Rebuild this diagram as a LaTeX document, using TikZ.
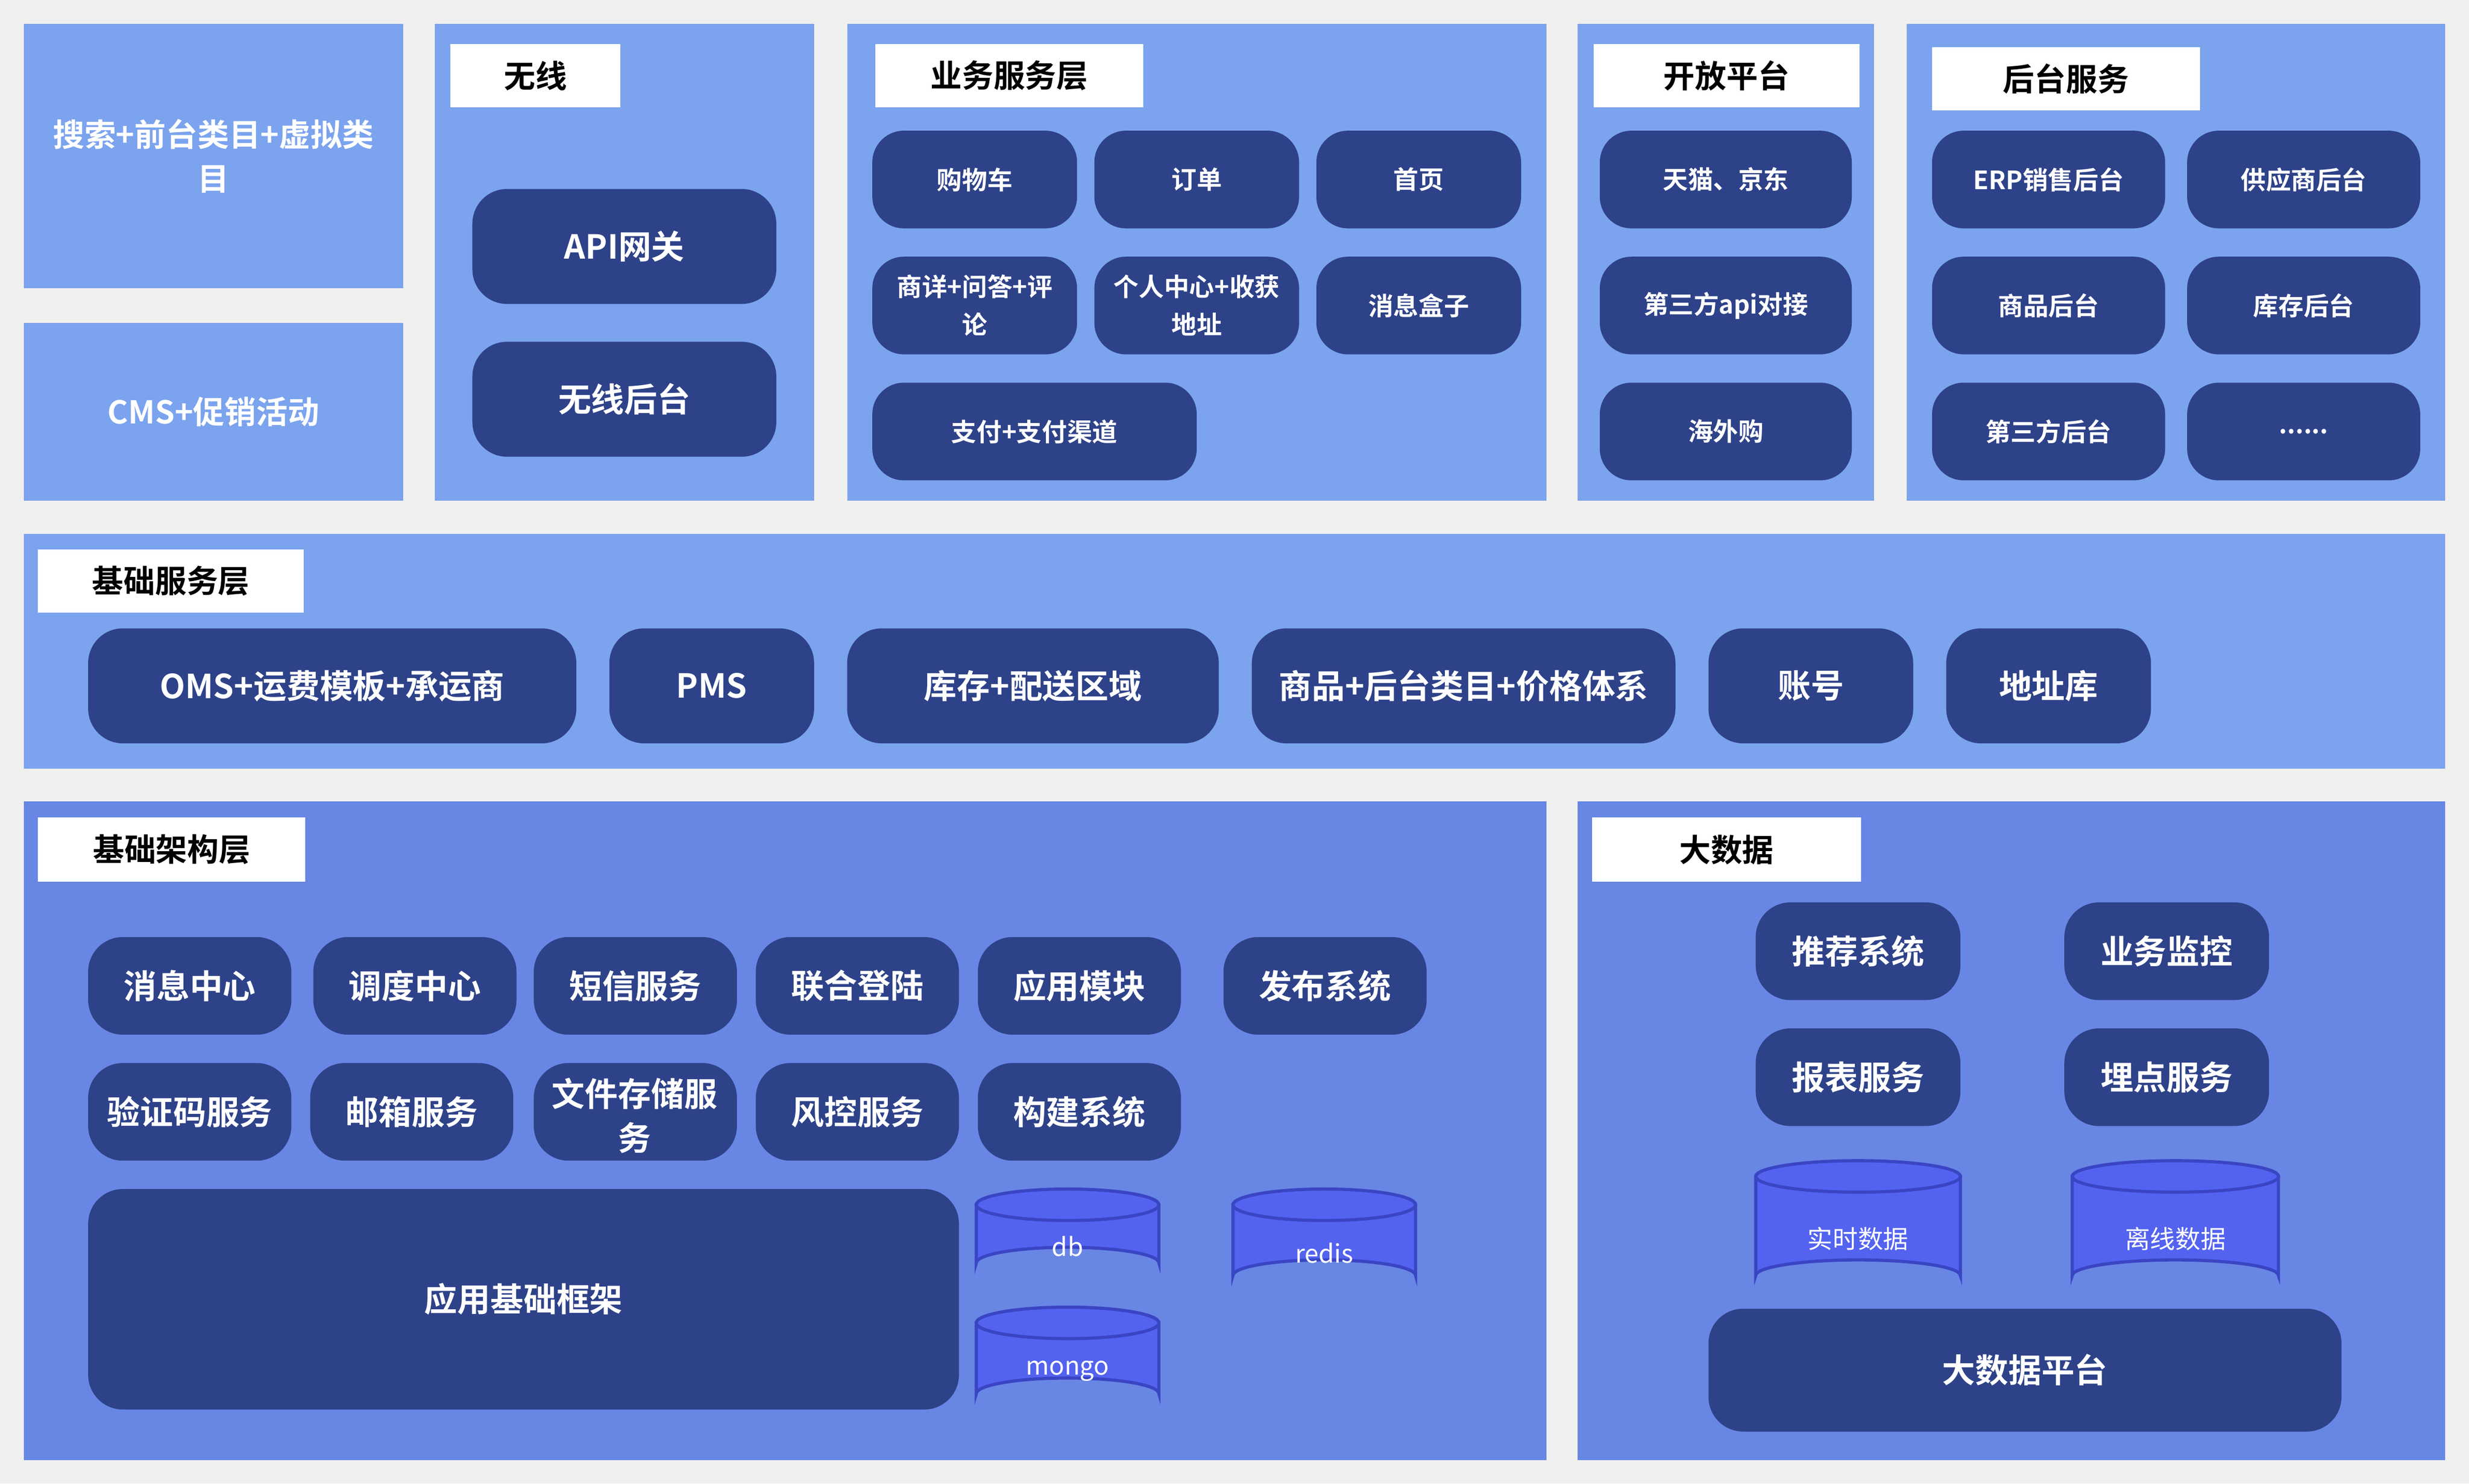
\documentclass[tikz,border=0pt]{standalone}
\usepackage{fontspec}
\setmainfont{Noto Sans CJK SC}[BoldFont={Noto Sans CJK SC Bold}]
\definecolor{bgc}{HTML}{F0F0F0}
\definecolor{lightp}{HTML}{7BA3EE}
\definecolor{midp}{HTML}{6886E4}
\definecolor{darkn}{HTML}{2E4289}
\definecolor{cylf}{HTML}{5363F0}
\definecolor{cyld}{HTML}{3A45C4}
\tikzset{
 panelA/.style={fill=lightp,inner sep=0,outer sep=0,text=white,font=\bfseries\fontsize{20}{28}\selectfont,align=center},
 panelB/.style={fill=midp,inner sep=0,outer sep=0},
 lab/.style={fill=white,inner sep=0,outer sep=0,font=\bfseries\fontsize{20}{24}\selectfont,text=black},
 sn/.style={fill=darkn,rounded corners=20pt,inner sep=0,outer sep=0,text=white,font=\bfseries\fontsize{16}{24}\selectfont,align=center},
 bn/.style={fill=darkn,rounded corners=22pt,inner sep=0,outer sep=0,text=white,font=\bfseries\fontsize{21}{28}\selectfont,align=center},
 cylt/.style={text=white,font=\fontsize{16}{20}\selectfont},
}
\newcommand\nd[7]{%
 \pgfmathsetmacro\cx{(#3+#5)/2}\pgfmathsetmacro\cy{(#4+#6)/2}%
 \pgfmathsetmacro\w{#5-#3}\pgfmathsetmacro\h{#6-#4}%
 \node[#1,minimum width=\w pt,minimum height=\h pt] (#2) at (\cx,\cy) {#7};}
\newcommand\cyl[6]{% name x1 y1 x2 y2 text
 \pgfmathsetmacro\cx{(#2+#4)/2}\pgfmathsetmacro\rx{(#4-#2)/2}%
 \fill[cylf,draw=cyld,line width=2pt] (#2,#3+10) -- (#2,#5-10) arc[start angle=180,end angle=360,x radius=\rx,y radius=10] -- (#4,#3+10) -- cycle;
 \draw[cyld,line width=2pt,fill=cylf] (\cx,#3+10) ellipse[x radius=\rx,y radius=10];
 \node[cylt] (#1) at (\cx,{(#3+#5)/2+8}) {#6};}
\begin{document}
\begin{tikzpicture}[x=1pt,y=-1pt]
\fill[bgc] (0,0) rectangle (1568,942);
\useasboundingbox (0,0) rectangle (1568,942);
% top row
\nd{panelA}{pa}{15}{15}{256}{183}{搜索+前台类目+虚拟类\\目}
\nd{panelA}{pb}{15}{205}{256}{318}{CMS+促销活动}
\nd{panelA}{pw}{276}{15}{517}{318}{}
\nd{lab}{lw}{286}{28}{394}{68}{无线}
\nd{bn}{api}{300}{120}{493}{193}{API网关}
\nd{bn}{wxht}{300}{217}{493}{290}{无线后台}
\nd{panelA}{pyw}{538}{15}{982}{318}{}
\nd{lab}{lyw}{556}{28}{726}{68}{业务服务层}
\nd{sn}{gwc}{554}{83}{684}{145}{购物车}
\nd{sn}{dd}{695}{83}{825}{145}{订单}
\nd{sn}{sy}{836}{83}{966}{145}{首页}
\nd{sn}{sx}{554}{163}{684}{225}{商详+问答+评\\论}
\nd{sn}{gr}{695}{163}{825}{225}{个人中心+收获\\地址}
\nd{sn}{xx}{836}{163}{966}{225}{消息盒子}
\nd{sn}{zf}{554}{243}{760}{305}{支付+支付渠道}
\nd{panelA}{pkf}{1002}{15}{1190}{318}{}
\nd{lab}{lkf}{1012}{28}{1181}{68}{开放平台}
\nd{sn}{tm}{1016}{83}{1176}{145}{天猫、京东}
\nd{sn}{dsf}{1016}{163}{1176}{225}{第三方api对接}
\nd{sn}{hwg}{1016}{243}{1176}{305}{海外购}
\nd{panelA}{pht}{1211}{15}{1553}{318}{}
\nd{lab}{lht}{1227}{30}{1397}{70}{后台服务}
\nd{sn}{erp}{1227}{83}{1375}{145}{ERP销售后台}
\nd{sn}{gys}{1389}{83}{1537}{145}{供应商后台}
\nd{sn}{sp}{1227}{163}{1375}{225}{商品后台}
\nd{sn}{kc}{1389}{163}{1537}{225}{库存后台}
\nd{sn}{dsfht}{1227}{243}{1375}{305}{第三方后台}
\nd{sn}{more}{1389}{243}{1537}{305}{......}
% base services
\nd{panelA}{pjc}{15}{339}{1553}{488}{}
\nd{lab}{ljc}{24}{349}{193}{389}{基础服务层}
\nd{bn}{oms}{56}{399}{366}{472}{OMS+运费模板+承运商}
\nd{bn}{pms}{387}{399}{517}{472}{PMS}
\nd{bn}{kcps}{538}{399}{774}{472}{库存+配送区域}
\nd{bn}{spht}{795}{399}{1064}{472}{商品+后台类目+价格体系}
\nd{bn}{zh}{1085}{399}{1215}{472}{账号}
\nd{bn}{dzk}{1236}{399}{1366}{472}{地址库}
% infra
\nd{panelB}{pjg}{15}{509}{982}{927}{}
\nd{lab}{ljg}{24}{519}{194}{560}{基础架构层}
\nd{bn}{xxzx}{56}{595}{185}{657}{消息中心}
\nd{bn}{ddzx}{199}{595}{328}{657}{调度中心}
\nd{bn}{dxfw}{339}{595}{468}{657}{短信服务}
\nd{bn}{lhdl}{480}{595}{609}{657}{联合登陆}
\nd{bn}{yymk}{621}{595}{750}{657}{应用模块}
\nd{bn}{fbxt}{777}{595}{906}{657}{发布系统}
\nd{bn}{yzm}{56}{675}{185}{737}{验证码服务}
\nd{bn}{yx}{197}{675}{326}{737}{邮箱服务}
\nd{bn}{wj}{339}{675}{468}{737}{}
\begin{scope}
\clip[rounded corners=22pt] (339,675) rectangle (468,737);
\node[text=white,font=\bfseries\fontsize{21}{28}\selectfont,align=center,anchor=north] (wjt) at (403,681) {文件存储服\\务};
\end{scope}
\nd{bn}{fk}{480}{675}{609}{737}{风控服务}
\nd{bn}{gj}{621}{675}{750}{737}{构建系统}
\nd{bn}{kj}{56}{755}{609}{895}{应用基础框架}
\cyl{db}{620}{755}{736}{812}{db}
\cyl{mongo}{620}{830}{736}{895}{mongo}
\cyl{redis}{783}{755}{899}{820}{redis}
% big data
\nd{panelB}{pdsj}{1002}{509}{1553}{927}{}
\nd{lab}{ldsj}{1011}{519}{1182}{560}{大数据}
\nd{bn}{tj}{1115}{573}{1245}{635}{推荐系统}
\nd{bn}{jk}{1311}{573}{1441}{635}{业务监控}
\nd{bn}{bb}{1115}{653}{1245}{715}{报表服务}
\nd{bn}{md}{1311}{653}{1441}{715}{埋点服务}
\cyl{ss}{1115}{737}{1245}{820}{实时数据}
\cyl{lx}{1316}{737}{1447}{820}{离线数据}
\nd{bn}{pt}{1085}{831}{1487}{909}{大数据平台}
\end{tikzpicture}
\end{document}
